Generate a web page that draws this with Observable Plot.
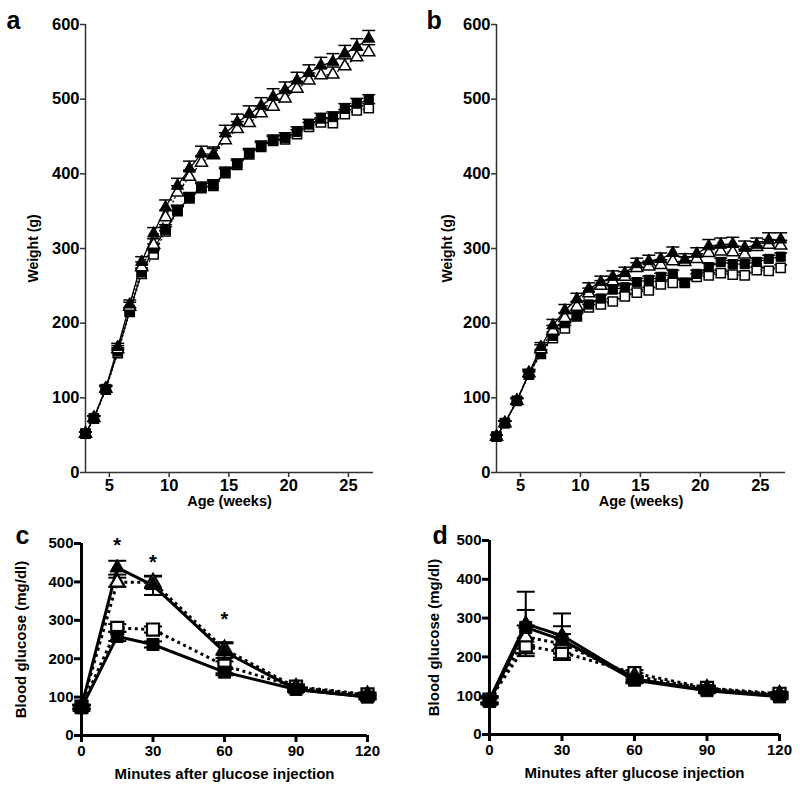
<!DOCTYPE html>
<html><head><meta charset="utf-8">
<script src="https://cdn.jsdelivr.net/npm/d3@7"></script>
<script src="https://cdn.jsdelivr.net/npm/@observablehq/plot@0.6"></script>
<style>
body{margin:0;background:#fff}
#root{position:relative;width:800px;height:795px;overflow:hidden}
.p{position:absolute}
</style>
</head><body><div id="root"></div>
<script>
// ---------- data ----------
const weeks = [3, 3.7, 4.7, 5.7, 6.7, 7.7, 8.7, 9.7, 10.7, 11.7, 12.7, 13.7, 14.7, 15.7, 16.7, 17.7, 18.7, 19.7, 20.7, 21.7, 22.7, 23.7, 24.7, 25.7, 26.7];
const weightTicks = [0, 100, 200, 300, 400, 500, 600];
const ageTicks = [5, 10, 15, 20, 25];

// panel a
const aTriFilled = [52,73,113,168,225,282,320,355,384,407,427,426,454,469,480,491,503,512,525,535,545,550,561,570,581];
const aTriFilledSem = [2,3,4,5,6,7,8,10,10,10,10,10,11,11,11,11,11,11,11,11,11,11,11,11,11];
const aTriOpen = [52,73,112,165,222,275,305,342,375,396,415,425,445,460,468,481,490,501,514,525,532,533,544,556,563];
const aTriOpenSem = [2,3,4,5,6,7,8,9,9,9,9,9,10,10,10,10,10,10,10,10,10,10,10,10,10];
const aSqFilled = [52,73,112,162,216,268,300,325,351,368,382,385,402,413,427,437,445,448,456,466,474,476,487,494,499];
const aSqFilledSem = [2,3,4,5,5,6,6,7,7,7,7,7,7,7,7,7,7,7,7,7,7,7,7,7,7];
const aSqOpen = [52,72,111,160,215,266,292,323,350,367,381,384,401,412,426,436,444,446,453,463,469,468,480,485,488];
const aSqOpenSem = [2,3,4,5,5,6,6,6,6,6,6,6,6,6,6,6,6,6,6,6,6,6,6,6,6];

// panel b
const bTriFilled = [48,66,96,133,168,197,217,232,246,255,262,267,279,283,286,294,285,293,303,305,306,301,305,311,312];
const bTriFilledSem = [2,3,4,5,6,8,8,8,8,8,8,8,8,8,8,8,8,8,9,9,9,9,9,10,9];
const bTriOpen = [48,66,96,133,165,190,207,222,240,250,256,262,274,276,278,283,282,286,294,296,295,292,302,305,304];
const bTriOpenSem = [2,3,4,5,6,7,7,7,7,7,7,7,7,7,7,7,7,7,7,7,7,7,7,7,7];
const bSqFilled = [48,66,96,132,160,183,200,210,225,233,245,248,255,258,262,266,254,266,275,282,279,279,282,286,289];
const bSqFilledSem = [2,3,3,4,4,5,5,5,5,5,5,5,5,5,5,5,5,5,5,5,5,5,5,5,5];
const bSqOpen = [48,66,96,131,159,180,193,209,221,225,229,236,241,244,252,254,254,262,264,267,265,264,271,270,274];
const bSqOpenSem = [2,3,3,4,4,4,4,4,4,4,4,4,4,4,4,4,4,4,4,4,4,4,4,4,4];

// panels c, d
const minutes = [0, 15, 30, 60, 90, 120];
const glucoseTicks = [0, 100, 200, 300, 400, 500];
const minuteTicks = [0, 30, 60, 90, 120];

const cTriFilled = [75,437,391,218,120,100];
const cTriFilledSem = [5,18,25,25,6,5];
const cTriOpen = [75,399,399,225,125,105];
const cTriOpenSem = [5,12,15,15,6,5];
const cSqOpen = [75,280,276,182,127,107];
const cSqOpenSem = [5,10,8,20,6,5];
const cSqFilled = [72,258,237,165,120,100];
const cSqFilledSem = [5,12,8,8,5,5];
const starMinutes = [15, 30, 60];
const starLevels = [508, 464, 315];

const dTriFilled = [90,285,255,143,115,100];
const dTriFilledSem = [8,83,57,8,6,5];
const dSqFilled = [85,276,244,140,113,97];
const dSqFilledSem = [8,45,35,8,6,5];
const dTriOpen = [90,251,234,150,118,103];
const dTriOpenSem = [8,30,25,8,6,5];
const dSqOpen = [90,229,212,158,120,105];
const dSqOpenSem = [8,20,20,8,6,5];

// ---------- helpers ----------
const FONT = "'Liberation Sans', Arial, Helvetica, sans-serif";
const capSymbol = {draw(ctx, size){ const r = Math.sqrt(size / Math.PI); ctx.moveTo(-r, 0); ctx.lineTo(r, 0); }};

function rows(xs, vals, sems){
  return xs.map((x, i) => ({x, y: vals[i], lo: vals[i] - sems[i], hi: vals[i] + sems[i]}));
}

function seriesMarks(series, st){
  const marks = [];
  for (const s of series){
    marks.push(Plot.ruleX(s.data, {x: "x", y1: st.upOnly ? "y" : "lo", y2: "hi", stroke: "black", strokeWidth: st.ebWidth}));
    marks.push(Plot.dot(s.data, {x: "x", y: "hi", symbol: capSymbol, r: st.capR, fill: "none", stroke: "black", strokeWidth: st.ebWidth}));
    if (!st.upOnly) marks.push(Plot.dot(s.data, {x: "x", y: "lo", symbol: capSymbol, r: st.capR, fill: "none", stroke: "black", strokeWidth: st.ebWidth}));
  }
  for (const s of series){
    marks.push(Plot.line(s.data, {x: "x", y: "y", stroke: "black", strokeWidth: st.lineWidth,
      strokeDasharray: s.filled ? null : st.dash, strokeLinecap: "butt"}));
  }
  for (const s of series){
    const r = s.symbol === "square" ? st.sqR : st.triR;
    marks.push(Plot.dot(s.data, {x: "x", y: "y", symbol: s.symbol, r,
      fill: s.filled ? "black" : "white", stroke: "black", strokeWidth: s.filled ? 1 : st.openWidth}));
  }
  return marks;
}

function place(el, left, top){
  const d = document.createElement("div");
  d.className = "p"; d.style.left = left + "px"; d.style.top = top + "px";
  d.appendChild(el);
  document.getElementById("root").appendChild(d);
}

const weightStyle = {upOnly: true, ebWidth: 1.5, capR: 6.5, lineWidth: 1.3, dash: "2,2", sqR: 5.2, triR: 4.5, openWidth: 1.5};
const glucoseStyle = {upOnly: false, ebWidth: 2, capR: 9, lineWidth: 3, dash: "3,3.5", sqR: 6.8, triR: 5.4, openWidth: 2.2};

function weightPanel(letter, series, mLeft, mRight, yLabDx, letterDx){
  return Plot.plot({
    width: 400, height: 520,
    marginLeft: mLeft, marginRight: mRight, marginTop: 24, marginBottom: 48,
    x: {domain: [3, 27.1]},
    y: {domain: [0, 600]},
    style: {fontFamily: FONT, fontWeight: "bold", fontSize: "16px", color: "black", background: "white", overflow: "visible"},
    marks: [
      Plot.axisY({ticks: weightTicks, tickSize: 5, tickPadding: 1, label: null, stroke: "#333", strokeWidth: 1.5, fontSize: 16.5}),
      Plot.axisX({ticks: ageTicks, tickSize: 5, tickPadding: 2, label: null, stroke: "#333", strokeWidth: 1.5, fontSize: 16.5}),
      Plot.ruleX([3], {stroke: "#333", strokeWidth: 1.5}),
      Plot.ruleY([0], {stroke: "#333", strokeWidth: 1.5}),
      ...seriesMarks(series, weightStyle),
      Plot.text(["Weight (g)"], {frameAnchor: "left", textAnchor: "middle", rotate: -90, dx: yLabDx, fontSize: 14, fontWeight: "bold", fill: "black"}),
      Plot.text(["Age (weeks)"], {frameAnchor: "bottom", textAnchor: "middle", dy: 33, fontSize: 14.5, fontWeight: "bold", fill: "black"}),
      Plot.text([letter], {frameAnchor: "top-left", textAnchor: "start", lineAnchor: "bottom", dx: letterDx, dy: 4, fontSize: 25, fontWeight: "bold", fill: "black"})
    ]
  });
}

function glucosePanel(letter, series, mLeft, mRight, mTop, mBottom, yLabDx, letterDx, letterDy, extra){
  return Plot.plot({
    width: 400, height: 275,
    marginLeft: mLeft, marginRight: mRight, marginTop: mTop, marginBottom: mBottom,
    x: {domain: [0, 120]},
    y: {domain: [0, 500]},
    style: {fontFamily: FONT, fontWeight: "bold", fontSize: "15px", color: "black", background: "white", overflow: "visible"},
    marks: [
      Plot.axisY({ticks: glucoseTicks, tickSize: 7, tickPadding: 1, label: null, stroke: "black", strokeWidth: 3, fontSize: 15}),
      Plot.axisX({ticks: minuteTicks, tickSize: 7, tickPadding: 3, label: null, stroke: "black", strokeWidth: 3, fontSize: 15}),
      Plot.ruleX([0], {stroke: "black", strokeWidth: 3}),
      Plot.ruleY([0], {stroke: "black", strokeWidth: 3}),
      ...seriesMarks(series, glucoseStyle),
      ...extra,
      Plot.text(["Blood glucose (mg/dl)"], {frameAnchor: "left", textAnchor: "middle", rotate: -90, dx: yLabDx, fontSize: 15, fontWeight: "bold", fill: "black"}),
      Plot.text(["Minutes after glucose injection"], {frameAnchor: "bottom", textAnchor: "middle", dy: 43, fontSize: 15, fontWeight: "bold", fill: "black"}),
      Plot.text([letter], {frameAnchor: "top-left", textAnchor: "start", lineAnchor: "bottom", dx: letterDx, dy: letterDy, fontSize: 25, fontWeight: "bold", fill: "black"})
    ]
  });
}

const seriesA = [
  {data: rows(weeks, aSqOpen, aSqOpenSem), symbol: "square", filled: false},
  {data: rows(weeks, aSqFilled, aSqFilledSem), symbol: "square", filled: true},
  {data: rows(weeks, aTriOpen, aTriOpenSem), symbol: "triangle", filled: false},
  {data: rows(weeks, aTriFilled, aTriFilledSem), symbol: "triangle", filled: true}
];
const seriesB = [
  {data: rows(weeks, bSqOpen, bSqOpenSem), symbol: "square", filled: false},
  {data: rows(weeks, bSqFilled, bSqFilledSem), symbol: "square", filled: true},
  {data: rows(weeks, bTriOpen, bTriOpenSem), symbol: "triangle", filled: false},
  {data: rows(weeks, bTriFilled, bTriFilledSem), symbol: "triangle", filled: true}
];
const seriesC = [
  {data: rows(minutes, cSqOpen, cSqOpenSem), symbol: "square", filled: false},
  {data: rows(minutes, cTriOpen, cTriOpenSem), symbol: "triangle", filled: false},
  {data: rows(minutes, cSqFilled, cSqFilledSem), symbol: "square", filled: true},
  {data: rows(minutes, cTriFilled, cTriFilledSem), symbol: "triangle", filled: true}
];
const seriesD = [
  {data: rows(minutes, dSqOpen, dSqOpenSem), symbol: "square", filled: false},
  {data: rows(minutes, dTriOpen, dTriOpenSem), symbol: "triangle", filled: false},
  {data: rows(minutes, dSqFilled, dSqFilledSem), symbol: "square", filled: true},
  {data: rows(minutes, dTriFilled, dTriFilledSem), symbol: "triangle", filled: true}
];

const stars = starMinutes.map((m, i) => ({x: m, y: starLevels[i]}));

place(weightPanel("a", seriesA, 85, 27, -52, -79), 0, 0);
place(weightPanel("b", seriesB, 96, 15, -49, -70), 400, 0);
place(glucosePanel("c", seriesC, 81, 33, 23, 60, -60, -66, 0,
  [Plot.text(stars, {x: "x", y: "y", text: () => "*", fontSize: 20, fontWeight: "bold", fill: "black", dy: 5})]), 0, 520);
place(glucosePanel("d", seriesD, 89, 21, 20, 61, -55, -57, 3, []), 400, 520);
</script>
</body></html>
